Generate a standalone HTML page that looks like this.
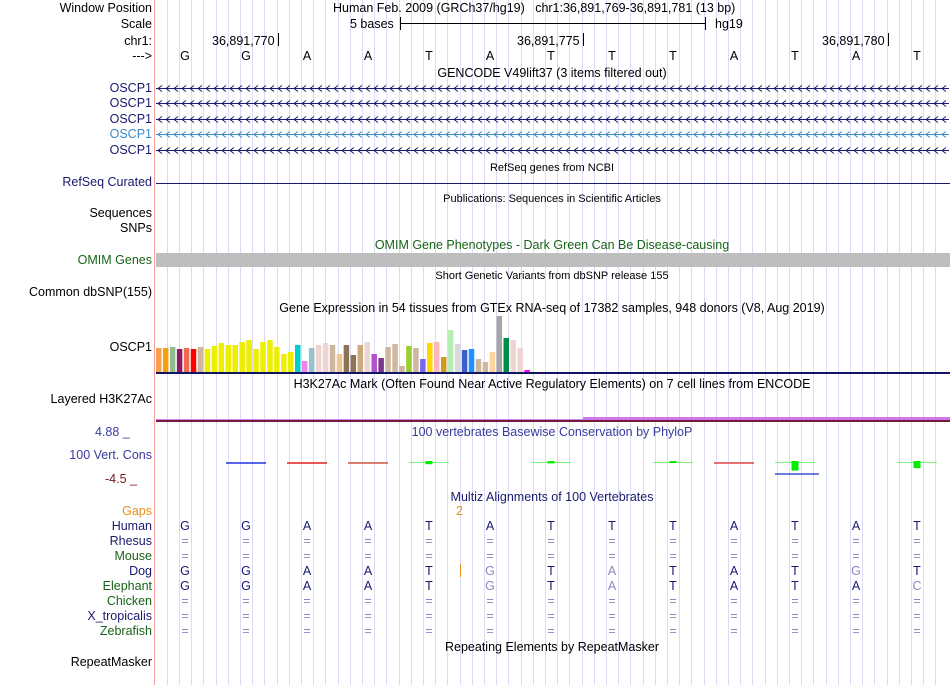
<!DOCTYPE html>
<html><head><meta charset="utf-8">
<style>
body{margin:0;background:#fff;width:950px;height:685px;overflow:hidden;position:relative;font-family:"Liberation Sans",sans-serif;font-size:12.5px;color:#000}
.a{position:absolute;white-space:nowrap;line-height:14px}
.lbl{position:absolute;right:798px;white-space:nowrap;line-height:14px;text-align:right}
.t{position:absolute;white-space:nowrap;line-height:14px;transform:translateX(-50%)}
.nv{color:#1a1a70}.gr{color:#186418}
.sm{font-size:11px}
</style></head><body>
<svg id="grid" width="950" height="685" style="position:absolute;left:0;top:0"></svg>

<div class="a" style="left:154px;top:0;width:1px;height:685px;background:#f7a0a0"></div>

<div class="lbl" style="top:1px">Window Position</div>
<div class="lbl" style="top:17px">Scale</div>
<div class="lbl" style="top:34px">chr1:</div>
<div class="lbl" style="top:49px">---&gt;</div>
<div class="a" style="left:333px;top:1px">Human Feb. 2009 (GRCh37/hg19)&nbsp;&nbsp;&nbsp;chr1:36,891,769-36,891,781 (13 bp)</div>
<div class="a" style="left:350px;top:17px">5 bases</div>
<div class="a" style="left:400px;top:23px;width:306px;height:1px;background:#000"></div>
<div class="a" style="left:400px;top:17px;width:1px;height:13px;background:#000"></div>
<div class="a" style="left:705px;top:17px;width:1px;height:13px;background:#000"></div>
<div class="a" style="left:715px;top:17px">hg19</div>
<div class="a" style="left:212px;top:34px">36,891,770</div>
<div class="a" style="left:278px;top:33px;width:1px;height:13px;background:#000"></div>
<div class="a" style="left:517px;top:34px">36,891,775</div>
<div class="a" style="left:583px;top:33px;width:1px;height:13px;background:#000"></div>
<div class="a" style="left:822px;top:34px">36,891,780</div>
<div class="a" style="left:888px;top:33px;width:1px;height:13px;background:#000"></div>
<div id="bases"></div>

<div class="t" style="left:552px;top:66px">GENCODE V49lift37 (3 items filtered out)</div>
<div class="lbl nv" style="top:81px">OSCP1</div>
<div class="lbl nv" style="top:96px">OSCP1</div>
<div class="lbl nv" style="top:112px">OSCP1</div>
<div class="lbl" style="top:127px;color:#3a8ac8">OSCP1</div>
<div class="lbl nv" style="top:143px">OSCP1</div>
<svg id="genes" width="950" height="685" style="position:absolute;left:0;top:0"></svg>

<div class="t sm" style="left:552px;top:161px">RefSeq genes from NCBI</div>
<div class="lbl nv" style="top:175px">RefSeq Curated</div>
<div class="a" style="left:156px;top:183px;width:794px;height:1px;background:#1a1a70"></div>
<div class="t sm" style="left:552px;top:192px">Publications: Sequences in Scientific Articles</div>
<div class="lbl" style="top:206px">Sequences</div>
<div class="lbl" style="top:221px">SNPs</div>
<div class="t gr" style="left:552px;top:238px">OMIM Gene Phenotypes - Dark Green Can Be Disease-causing</div>
<div class="lbl gr" style="top:253px">OMIM Genes</div>
<div class="a" style="left:156px;top:253px;width:794px;height:14px;background:#bebebe"></div>
<div class="t sm" style="left:552px;top:269px">Short Genetic Variants from dbSNP release 155</div>
<div class="lbl" style="top:285px">Common dbSNP(155)</div>
<div class="t" style="left:552px;top:301px">Gene Expression in 54 tissues from GTEx RNA-seq of 17382 samples, 948 donors (V8, Aug 2019)</div>
<div class="lbl" style="top:340px">OSCP1</div>
<svg id="gtex" width="950" height="685" style="position:absolute;left:0;top:0"></svg>

<div class="t" style="left:552px;top:377px">H3K27Ac Mark (Often Found Near Active Regulatory Elements) on 7 cell lines from ENCODE</div>
<div class="lbl" style="top:392px">Layered H3K27Ac</div>
<div class="a" style="left:156px;top:419px;width:794px;height:1px;background:#cc88ee"></div>
<div class="a" style="left:583px;top:417px;width:367px;height:3px;background:#cc77ee"></div>
<div class="a" style="left:156px;top:420px;width:794px;height:2px;background:#7a1a3a"></div>

<div class="a" style="left:95px;top:425px;color:#3a3aa0">4.88 _</div>
<div class="lbl" style="top:448px;color:#3a3aa0">100 Vert. Cons</div>
<div class="a" style="left:105px;top:472px;color:#7a1a1a">-4.5 _</div>
<div class="t" style="left:552px;top:425px;color:#3a3aa0">100 vertebrates Basewise Conservation by PhyloP</div>
<svg id="cons" width="950" height="685" style="position:absolute;left:0;top:0"></svg>

<div class="t nv" style="left:552px;top:490px">Multiz Alignments of 100 Vertebrates</div>
<div class="lbl" style="top:504px;color:#e8901a">Gaps</div>
<div class="a" style="left:456px;top:504px;color:#e8901a">2</div>
<div class="a" style="left:460px;top:564px;width:1px;height:13px;background:#e8901a"></div>
<div id="multiz"></div>
<div class="t" style="left:552px;top:640px">Repeating Elements by RepeatMasker</div>
<div class="lbl" style="top:655px">RepeatMasker</div>

<script>
const NS="http://www.w3.org/2000/svg";
const humanBases=["G","G","A","A","T","A","T","T","T","A","T","A","T"];
const species=["Human","Rhesus","Mouse","Dog","Elephant","Chicken","X_tropicalis","Zebrafish"];
const speciesColor=["#1a1a70","#1a1a70","#186418","#1a1a70","#186418","#186418","#1a1a70","#186418"];
const dogSeq=["G","G","A","A","T","G","T","A","T","A","T","G","T"];
const elephantSeq=["G","G","A","A","T","G","T","A","T","A","T","A","C"];
const gtexValues=[24,24,25,23,24,23,25,23,26,29,27,27,30,32,23,30,32,25,18,20,27,11,24,27,29,27,18,27,17,27,30,18,14,25,28,6,26,24,13,29,30,15,42,28,22,23,13,10,20,56,34,32,24,2];
const gtexColors=["#f7a04a","#f0a010","#8fbc8f","#8b1c62","#ee6a50","#ff0000","#cdb79e","#eeee00","#eeee00","#eeee00","#eeee00","#eeee00","#eeee00","#eeee00","#eeee00","#eeee00","#eeee00","#eeee00","#eeee00","#eeee00","#00cdcd","#ee82ee","#9ac0cd","#eed5d2","#eed5d2","#cdb79e","#eec591","#8b7355","#8b7355","#cdaa7d","#eed5d2","#b452cd","#7a378b","#cdb79e","#cdb79e","#cdb79e","#9acd32","#cdb79e","#7a67ee","#ffd700","#ffb6c1","#cd9b1d","#b4eeb4","#d9d9d9","#3a5fcd","#1e90ff","#cdb79e","#cdb79e","#ffd39b","#a6a6a6","#008b45","#eed5d2","#eed5d2","#ff00ff"];
// PhyloP per base (null = no data)
const consValues=[null,-0.6,-0.3,-0.4,0.8,null,0.6,null,0.2,-0.3,2.4,null,1.8];
const consColors=[null,"#2233dd","#dd2222","#cc5544","#00ee00",null,"#00ee00",null,"#00ee00","#dd4444","#00ee00",null,"#00ee00"];

const x0=154.5, bw=61;
const baseX=i=>x0+bw*(i+0.5);

const g=document.getElementById('grid');
for(let k=1;k<65;k++){const l=document.createElementNS(NS,'line');const x=Math.round(x0+12.2*k)+0.5;
l.setAttribute('x1',x);l.setAttribute('x2',x);l.setAttribute('y1',0);l.setAttribute('y2',685);l.setAttribute('stroke','#dcdaf4');


g.appendChild(l);}

const bd=document.getElementById('bases');
humanBases.forEach((b,i)=>{const d=document.createElement('div');d.className='t';d.style.left=baseX(i)+'px';d.style.top='49px';d.textContent=b;


bd.appendChild(d);});

const gs=document.getElementById('genes');
[88,103,119,134,150].forEach((y,j)=>{const c=j==3?'#3a8ac8':'#1a1a70';
const l=document.createElementNS(NS,'line');l.setAttribute('x1',156);l.setAttribute('x2',949);l.setAttribute('y1',y+0.5);l.setAttribute('y2',y+0.5);l.setAttribute('stroke',c);


gs.appendChild(l);
let p='';for(let x=158;x<948;x+=8){p+=`M${x+4},${y-2.5}L${x},${y+0.5}L${x+4},${y+3.5}`;}
const pa=document.createElementNS(NS,'path');pa.setAttribute('d',p);pa.setAttribute('stroke',c);pa.setAttribute('fill','none');pa.setAttribute('stroke-width','1');


gs.appendChild(pa);});

const gt=document.getElementById('gtex');
const gBase=372, gScale=1;
const gx=i=>156+i*6.95;
const gy=v=>gBase-v*gScale;
gtexValues.forEach((v,i)=>{const r=document.createElementNS(NS,'rect');r.setAttribute('x',gx(i));r.setAttribute('width',5.5);r.setAttribute('y',gy(v));r.setAttribute('height',gBase-gy(v));r.setAttribute('fill',gtexColors[i]);


gt.appendChild(r);});
const bl=document.createElementNS(NS,'rect');bl.setAttribute('x',156);bl.setAttribute('y',372);bl.setAttribute('width',794);bl.setAttribute('height',2);bl.setAttribute('fill','#141466');


gt.appendChild(bl);

const cs=document.getElementById('cons');
const cy0=462, cScale=4;
const cx=i=>baseX(i)-20;
consValues.forEach((v,i)=>{if(v===null)return;const c=consColors[i];
const l=document.createElementNS(NS,'rect');l.setAttribute('x',cx(i));l.setAttribute('width',40);
l.setAttribute('y',cy0);l.setAttribute('height',v<0?2:1);l.setAttribute('fill',c);l.setAttribute('opacity',v<0?0.75:0.5);


cs.appendChild(l);
if(v>0){const r=document.createElementNS(NS,'rect');const h=Math.max(2,v*cScale);r.setAttribute('x',baseX(i)-3.5);r.setAttribute('width',7);r.setAttribute('y',cy0-1);r.setAttribute('height',h);r.setAttribute('fill',c);


cs.appendChild(r);}});
// secondary negative trace under base 11
const nb=document.createElementNS(NS,'rect');nb.setAttribute('x',baseX(10)-20);nb.setAttribute('y',473);nb.setAttribute('width',44);nb.setAttribute('height',2);nb.setAttribute('fill','#3344cc');nb.setAttribute('opacity','0.7');


cs.appendChild(nb);

const mz=document.getElementById('multiz');
species.forEach((s,j)=>{const y=519+15*j;
const d=document.createElement('div');d.className='lbl';d.style.top=y+'px';d.style.color=speciesColor[j];d.textContent=s;


mz.appendChild(d);
for(let i=0;i<13;i++){let ch='=',col='#8a8ac0';
if(s==='Human'){ch=humanBases[i];col='#1a1a70';}
else if(s==='Dog'||s==='Elephant'){const seq=s==='Dog'?dogSeq:elephantSeq;ch=seq[i];col=ch===humanBases[i]?'#1a1a70':'#8a8ac0';}
const e=document.createElement('div');e.className='t';e.style.left=baseX(i)+'px';e.style.top=y+'px';e.style.color=col;e.textContent=ch;


mz.appendChild(e);}});
</script>
</body></html>
